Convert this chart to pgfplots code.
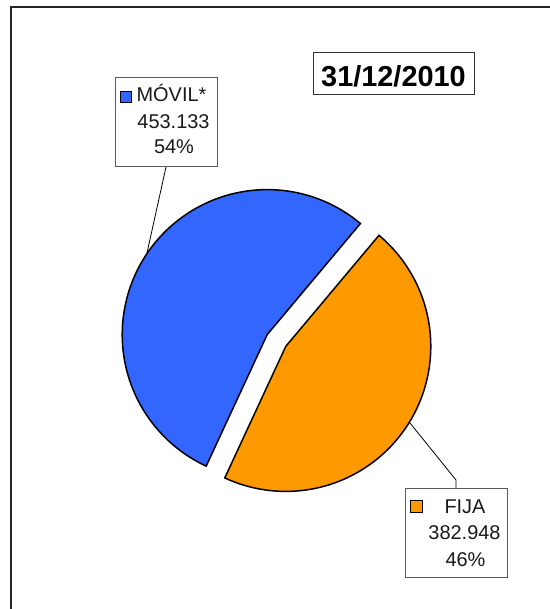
\documentclass[border=0pt]{standalone}
\usepackage{pgfplots}
\pgfplotsset{compat=1.18}
\usepackage{pgfplotstable}
\usepackage{fontspec}
\setmainfont{Liberation Sans}
\definecolor{movil}{RGB}{51,102,255}
\definecolor{fija}{RGB}{255,153,0}
\definecolor{boxgray}{RGB}{90,90,90}
\pgfplotstableread{
label value
MOVIL 453.133
FIJA 382.948
}\pietable
\pgfplotstablegetelem{0}{value}\of\pietable \let\vM\pgfplotsretval
\pgfplotstablegetelem{1}{value}\of\pietable \let\vF\pgfplotsretval
\begin{document}
\begin{tikzpicture}
\pgfmathsetmacro{\fracM}{\vM/(\vM+\vF)}
\pgfmathsetmacro{\aS}{50}
\pgfmathsetmacro{\aM}{50+360*\fracM}
\pgfmathsetmacro{\aE}{410}
\pgfmathsetmacro{\midM}{(\aS+\aM)/2}
\pgfmathsetmacro{\midF}{(\aM+\aE)/2}
\pgfmathsetmacro{\cMx}{276.5+11*cos(\midM)}
\pgfmathsetmacro{\cMy}{268.5+11*sin(\midM)}
\pgfmathsetmacro{\cFx}{276.5+11*cos(\midF)}
\pgfmathsetmacro{\cFy}{268.5+11*sin(\midF)}
\begin{axis}[
  at={(0,0)}, anchor=south west,
  width=550bp, height=609bp, scale only axis,
  xmin=0, xmax=550, ymin=0, ymax=609,
  hide axis, clip=true,
]
% frame
\addplot[draw=black!85, line width=2bp, mark=none] coordinates {(11,0) (11,602) (550,602)};
% pie slices
\addplot[draw=black, line width=1.5bp, fill=movil, domain=\aS:\aM, samples=150, mark=none]
  ({\cMx+145*cos(x)},{\cMy+145*sin(x)}) -- (\cMx,\cMy) -- cycle;
\addplot[draw=black, line width=1.5bp, fill=fija, domain=\aM:\aE, samples=150, mark=none]
  ({\cFx+145*cos(x)},{\cFy+145*sin(x)}) -- (\cFx,\cFy) -- cycle;
% leader lines
\addplot[draw=black, line width=0.8bp, mark=none] coordinates {(166,442) (147,356)};
\addplot[draw=black, line width=0.8bp, mark=none] coordinates {(456,120) (456,129) (410,186)};
% label boxes
\draw[boxgray, line width=1bp, fill=white] (115,442) rectangle (217,531);
\draw[boxgray, line width=1bp, fill=white] (405,31) rectangle (507,120);
\draw[black!80, line width=1bp, fill=white] (313,514) rectangle (474,556);
% markers
\draw[black, line width=1.6bp, fill=movil] (120.5,506.5) rectangle (131.5,517.5);
\draw[black, line width=1.6bp, fill=fija] (410.5,96.5) rectangle (422.5,108.5);
% texts
\node[anchor=base, font=\fontsize{29}{34}\selectfont\bfseries, inner sep=0pt] at (393.5,522) {31/12/2010};
\node[anchor=base, font=\fontsize{20}{24}\selectfont, inner sep=0pt, text=black!90] at (171.5,507.3) {MÓVIL*};
\node[anchor=base, font=\fontsize{20}{24}\selectfont, inner sep=0pt, text=black!90] at (173.5,480.7) {453.133};
\node[anchor=base, font=\fontsize{20}{24}\selectfont, inner sep=0pt, text=black!90] at (174,455.7) {54\%};
\node[anchor=base, font=\fontsize{20}{24}\selectfont, inner sep=0pt, text=black!90] at (465,95) {FIJA};
\node[anchor=base, font=\fontsize{20}{24}\selectfont, inner sep=0pt, text=black!90] at (464.5,69) {382.948};
\node[anchor=base, font=\fontsize{20}{24}\selectfont, inner sep=0pt, text=black!90] at (465.5,42.3) {46\%};
\end{axis}
\pgfresetboundingbox
\path (0,0) rectangle (550bp,609bp);
\end{tikzpicture}
\end{document}
